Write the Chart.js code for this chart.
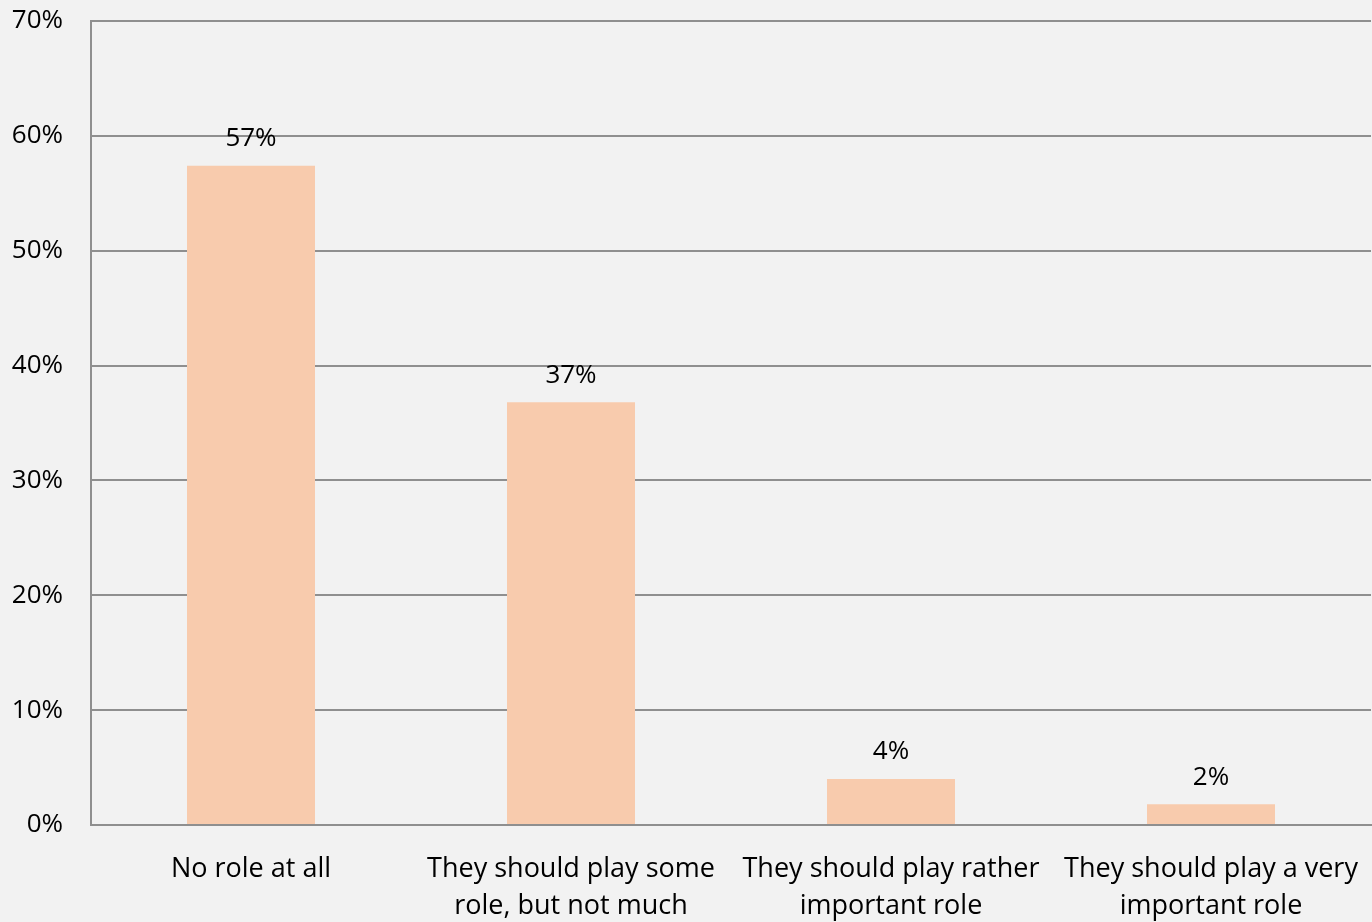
<!DOCTYPE html>
<html>
<head>
<meta charset="utf-8">
<script src="https://cdn.jsdelivr.net/npm/chart.js@4/dist/chart.umd.min.js"></script>
<style>
  html, body { margin: 0; padding: 0; background: #f2f2f2; }
  #wrap { width: 1372px; height: 922px; }
</style>
</head>
<body>
<div id="wrap"><canvas id="bars" width="1372" height="922"></canvas></div>
<script>
var categories = [
    'No role at all',
    ['They should play some', 'role, but not much'],
    ['They should play rather', 'important role'],
    ['They should play a very', 'important role']
];
var shares = [57.4, 36.8, 4.0, 1.8];
var yTicks = [0, 10, 20, 30, 40, 50, 60, 70];

var fontFamily = '"Open Sans", "DejaVu Sans", sans-serif';
var gridColor = '#8f8f8f';

// labels above each bar
var valueLabels = {
    id: 'valueLabels',
    afterDatasetsDraw: function (chart) {
        var ctx = chart.ctx;
        var meta = chart.getDatasetMeta(0);
        ctx.save();
        ctx.font = '26px ' + fontFamily;
        ctx.fillStyle = '#000';
        ctx.textAlign = 'center';
        ctx.textBaseline = 'middle';
        meta.data.forEach(function (bar, i) {
            ctx.fillText(Math.round(shares[i]) + '%', bar.x, bar.y - 27);
        });
        ctx.restore();
    }
};

var ctx = document.getElementById('bars').getContext('2d');
var chart = new Chart(ctx, {
    type: 'bar',
    data: {
        labels: categories,
        datasets: [{
            data: shares,
            backgroundColor: '#f8cbad',
            borderWidth: 0,
            barPercentage: 0.4,
            categoryPercentage: 1.0
        }]
    },
    options: {
        responsive: false,
        animation: false,
        layout: {
            padding: { top: 21, right: 1, left: 0, bottom: 0 }
        },
        plugins: {
            legend: { display: false },
            tooltip: { enabled: false }
        },
        scales: {
            x: {
                grid: { display: false, drawTicks: false },
                border: { display: true, color: gridColor, width: 2 },
                ticks: {
                    color: '#000',
                    font: { family: fontFamily, size: 27, lineHeight: 1.4 },
                    padding: 25,
                    maxRotation: 0,
                    autoSkip: false
                },
                afterFit: function (scale) {
                    scale.height = 97;
                    scale.paddingLeft = 0;
                    scale.paddingRight = 0;
                }
            },
            y: {
                min: 0,
                max: 70,
                afterBuildTicks: function (scale) {
                    scale.ticks = yTicks.map(function (v) { return { value: v }; });
                },
                grid: { color: gridColor, lineWidth: 2, drawTicks: false },
                border: { display: true, color: gridColor, width: 2 },
                ticks: {
                    color: '#000',
                    font: { family: fontFamily, size: 26 },
                    padding: 28,
                    callback: function (v) { return v + '%'; }
                },
                afterFit: function (scale) {
                    scale.width = 91;
                    scale.paddingTop = 0;
                    scale.paddingBottom = 0;
                }
            }
        }
    },
    plugins: [valueLabels]
});
</script>
</body>
</html>
